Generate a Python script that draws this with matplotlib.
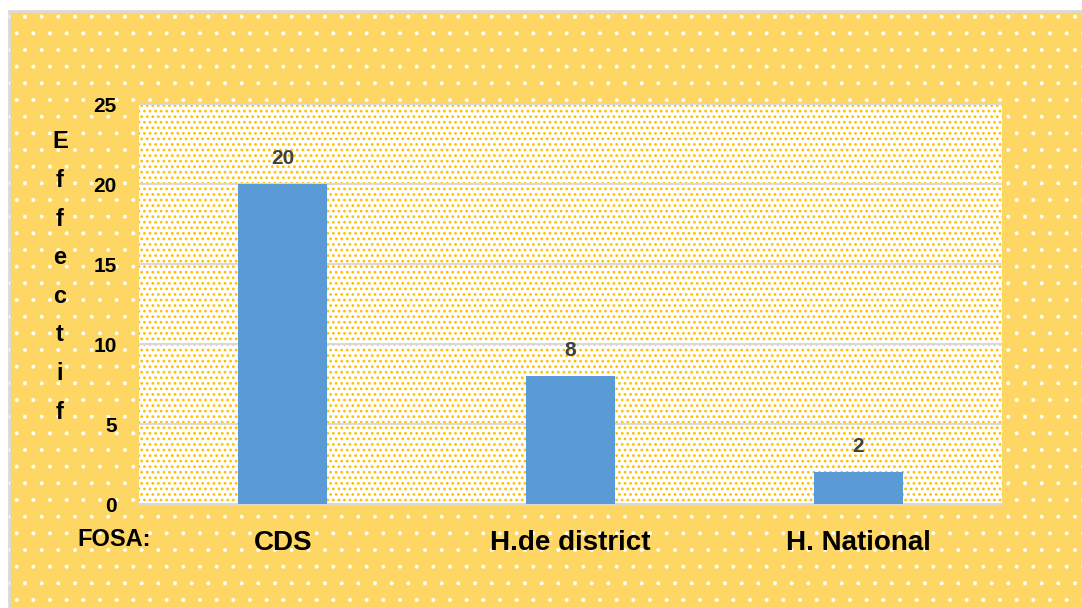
import matplotlib
matplotlib.use("Agg")
import matplotlib.pyplot as plt
from matplotlib.patches import Rectangle

# data
categories = ['CDS', 'H.de district', 'H. National']
effectif = [20, 8, 2]
y_ticks = [0, 5, 10, 15, 20, 25]

bg_yellow = '#FDD663'
bar_blue = '#5B9BD5'
font = 'Liberation Sans'

plt.rcParams['hatch.linewidth'] = 0.4

fig = plt.figure(figsize=(10.82, 6.08), dpi=100)
fig.patch.set_facecolor('white')

# outer chart area: yellow with white dots, grey border
x0, y0 = 9 / 1082, 0.0
w, h = 1 - x0, 1 - 11 / 608
fig.patches.append(Rectangle((x0, y0), w, h, transform=fig.transFigure,
                             facecolor=bg_yellow, edgecolor='#D9D9D9', linewidth=2, zorder=0))
fig.patches.append(Rectangle((x0, y0), w, h, transform=fig.transFigure,
                             fill=False, hatch='.', edgecolor='white', linewidth=0, zorder=0))

ax = fig.add_axes([139 / 1082, 1 - 504 / 608, (1002 - 139) / 1082, (504 - 104) / 608])
ax.set_zorder(2)
ax.set_facecolor('white')
# plot area: white with small orange dots
plt.rcParams['hatch.linewidth'] = 1.2
ax.add_patch(Rectangle((0, 0), 1, 1, transform=ax.transAxes, fill=False,
                       hatch='...', edgecolor='#FFC000', linewidth=0, zorder=0.5))

x = list(range(len(categories)))
bars = ax.bar(x, effectif, width=0.31, color=bar_blue, zorder=2)

for xi, v in zip(x, effectif):
    ax.text(xi, v + 1.6, str(v), ha='center', va='center', fontsize=15,
            fontweight='bold', color='#404040', family=font, zorder=3)

ax.set_xlim(-0.5, len(categories) - 0.5)
ax.set_ylim(0, 25)
ax.set_yticks(y_ticks)
ax.set_yticklabels([str(t) for t in y_ticks], fontsize=15, fontweight='bold', family=font)
ax.set_xticks(x)
ax.set_xticklabels(categories, fontsize=20, fontweight='bold', family=font)
ax.tick_params(axis='y', length=0, pad=16)
ax.tick_params(axis='x', length=0, pad=19)

ax.grid(axis='y', color='#D9D9D9', linewidth=1.5, zorder=1)
ax.set_axisbelow(True)
for s in ['top', 'right', 'left']:
    ax.spines[s].set_visible(False)
ax.spines['bottom'].set_color('#D9D9D9')
ax.spines['bottom'].set_linewidth(1.5)
ax.spines['bottom'].set_zorder(1)

# vertical stacked axis title and the "FOSA:" label
fig.text(60 / 1082, 1 - 277 / 608, '\n'.join('Effectif'), ha='center', va='center',
         fontsize=17, fontweight='bold', family=font, linespacing=1.87, zorder=3)
fig.text(114 / 1082, 1 - 540 / 608, 'FOSA:', ha='center', va='center',
         fontsize=17, fontweight='bold', family=font, zorder=3)

fig.savefig('out.png', dpi=100, facecolor=fig.get_facecolor())
